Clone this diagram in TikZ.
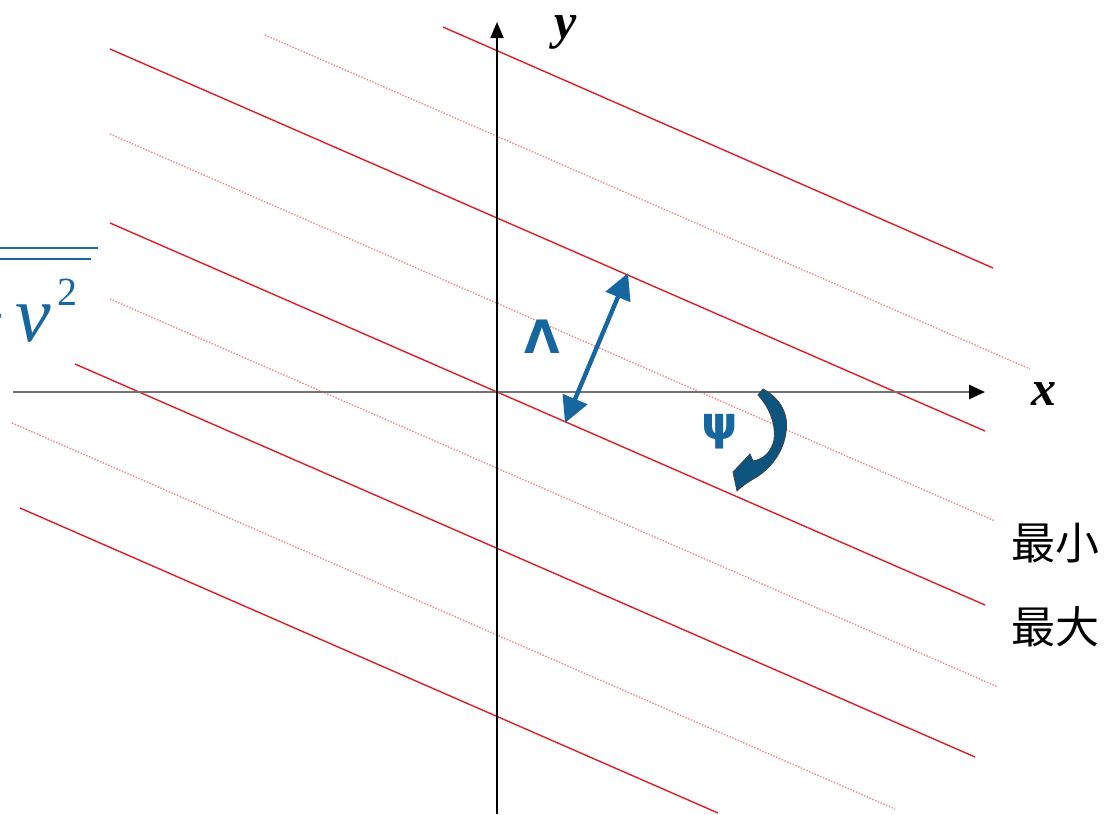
\documentclass[tikz,border=0pt]{standalone}
\usepackage{fontspec}
\setmainfont{Liberation Serif}
\newfontfamily\cjk{Noto Sans CJK SC}
\newfontfamily\symfont{DejaVu Sans}
\usetikzlibrary{arrows.meta}
\definecolor{wavered}{RGB}{222,30,36}
\definecolor{wavepink}{RGB}{240,135,135}
\definecolor{waveblue}{RGB}{22,102,160}
\definecolor{arcblue}{RGB}{12,84,128}
\definecolor{axisgray}{RGB}{115,115,115}

\begin{document}
\begin{tikzpicture}[
    x=0.5pt, y=-0.5pt,
    crest/.style={wavered, line width=0.7pt},
    trough/.style={wavepink, line width=0.7pt, dash pattern=on 0.7pt off 0.8pt},
    axislabel/.style={font=\fontsize{25}{25}\selectfont\bfseries\itshape, inner sep=0pt},
    greeklabel/.style={text=waveblue, font=\symfont\bfseries\fontsize{23}{23}\selectfont, inner sep=0pt},
    cnlabel/.style={font=\cjk\fontsize{22}{22}\selectfont, inner sep=0pt}
]
\useasboundingbox (0,0) rectangle (1107,814);
\clip (0,0) rectangle (1107,814);

\draw[trough] (265,35) -- (1030,369);
\draw[trough] (110,134) -- (995,521);
\draw[trough] (110,299) -- (998,687);
\draw[trough] (12,423) -- (895,809);

\draw[crest] (443,27) -- (993,268);
\draw[crest] (110,49) -- (985,431);
\draw[crest] (110,223) -- (985,605);
\draw[crest] (75,364) -- (975,757);
\draw[crest] (20,508) -- (718,813);

\coordinate (xfrom) at (13,392);
\coordinate (xto) at (985,392);
\coordinate (yfrom) at (497,814);
\coordinate (yto) at (497,22);
\draw[axisgray, line width=1.3pt, -{Triangle[length=8pt,width=7pt,color=black]}] (xfrom) -- (xto);
\draw[black, line width=0.9pt, -{Triangle[length=8pt,width=6.5pt]}] (yfrom) -- (yto);

\node (xlab) [axislabel] at (1044,394) {x};
\node (ylab) [axislabel, anchor=base] at (566,38) {y};

\node (plus) [anchor=base east, text=waveblue, inner sep=0pt, font=\fontsize{38}{38}\selectfont] at (6,341) {+};
\node (vsym) [anchor=base west, text=waveblue, inner sep=0pt, font=\fontsize{40}{40}\selectfont\itshape] at (15,341) {v};
\node (vsq) [anchor=base west, text=waveblue, inner sep=0pt, font=\fontsize{20}{20}\selectfont] at (57,305) {2};
\draw[waveblue, line width=1pt] (0,248) -- (98,248);
\draw[waveblue, line width=1pt] (0,259) -- (91,259);

\coordinate (lamfoot) at (565,423);
\coordinate (lamhead) at (628,273);
\draw[waveblue, line width=2.2pt, {Triangle[length=13pt,width=13pt]}-{Triangle[length=13pt,width=13pt]}] (lamfoot) -- (lamhead);
\node (lam) [greeklabel] at (542,337) {Λ};

\fill[arcblue, draw=black!75, line width=0.4pt] (763,389) .. controls (780,398) and (789,414) .. (786,432)
    .. controls (784,450) and (772,468) .. (755,478) .. controls (748,482) and (742,486) .. (737,491)
    -- (733,472) -- (750,454) -- (753,461) .. controls (764,459) and (771,452) .. (774,440)
    .. controls (776,425) and (770,408) .. (758,395) -- cycle;
\node (psi) [greeklabel] at (720,432) {ψ};

\node (minlab) [cnlabel] at (1055,543) {最小};
\node (maxlab) [cnlabel] at (1055,627) {最大};

\end{tikzpicture}
\end{document}
